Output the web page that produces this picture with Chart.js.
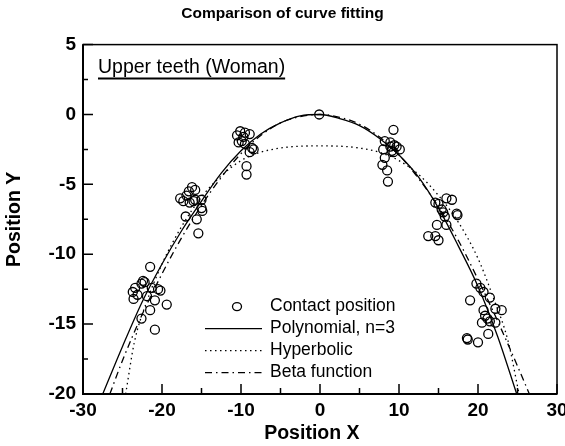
<!DOCTYPE html>
<html>
<head>
<meta charset="utf-8">
<script src="https://cdn.jsdelivr.net/npm/chart.js@4/dist/chart.umd.min.js"></script>
<style>
  html, body { margin: 0; padding: 0; background: #fff; overflow: hidden; }
  #wrap { width: 565px; height: 446px; }
</style>
</head>
<body>
<div id="wrap"><canvas id="chart"></canvas></div>
<script>
// ── Data ─────────────────────────────────────────────────────────────────────
const contactX = [
  -21.5, -22.4, -22.2, -22.6, -23.4, -23.7, -23.1, -23.6, -21.9, -21.3, -20.5, -20.2, -20.9, -19.4, -21.5, -22.6, -20.9,
  -16.2, -16.6, -15.8, -16.9, -17.7, -17.3, -16.5, -15.8, -15.0, -15.0, -14.9, -17.0, -15.6, -15.4, -16.0,
  -10.1, -9.5, -8.9, -10.5, -9.7, -10.3, -9.5, -8.6, -8.4, -8.9, -9.3, -9.3, -9.9,
  -0.1,
  9.3, 8.2, 8.9, 9.4, 9.7, 10.1, 8.0, 9.1, 9.3, 8.9, 8.2, 7.9, 8.5, 8.6,
  14.6, 15.0, 16.0, 16.7, 15.4, 15.8, 17.3, 17.4, 16.0, 14.8, 13.7, 14.6, 15.0, 15.6,
  19.8, 20.3, 20.7, 21.5, 19.0, 22.2, 23.0, 20.7, 20.9, 21.2, 20.5, 21.5, 22.2, 21.3, 18.6, 18.7, 20.0
];
const contactY = [
  -10.9, -11.9, -12.0, -12.1, -12.4, -12.7, -12.9, -13.2, -13.0, -12.4, -12.5, -12.6, -13.3, -13.6, -14.0, -14.6, -15.4,
  -5.2, -5.5, -5.4, -5.8, -6.0, -6.2, -6.3, -6.1, -6.1, -6.7, -6.9, -7.3, -7.5, -8.5, -6.2,
  -1.2, -1.3, -1.4, -1.5, -1.6, -2.0, -2.1, -2.4, -2.5, -2.7, -3.7, -4.3, -1.9,
  0.0,
  -1.1, -1.9, -2.0, -2.2, -2.3, -2.5, -2.5, -2.6, -2.7, -2.3, -3.1, -3.6, -4.0, -4.8,
  -6.3, -6.4, -6.0, -6.1, -6.8, -7.3, -7.1, -7.2, -7.9, -7.9, -8.7, -8.7, -9.0, -7.0,
  -12.1, -12.4, -12.7, -13.1, -13.3, -13.9, -14.0, -14.0, -14.4, -14.6, -14.9, -14.8, -14.9, -15.7, -16.0, -16.1, -16.3
];

// Polynomial, n=3 (solid)
const polyX = [-27.5, -25, -22.5, -20, -17.5, -15, -12.5, -10, -7.5, -5, -2.5, 0, 2.5, 5, 7.5, 10, 12.5, 15, 17.5, 20, 22.5, 24.9];
const polyY = [-20, -16.6, -13.4, -10.7, -8.3, -6.2, -4.2, -2.6, -1.4, -0.6, -0.1, 0, -0.3, -0.8, -1.7, -2.9, -4.5, -6.7, -9.4, -12.3, -15.9, -20];

// Hyperbolic (dotted)
const hypX = [-24.6, -23.5, -22, -20, -17.5, -15, -12.5, -10, -7.5, -5, -2.5, 0, 2.5, 5, 7.5, 10, 12.5, 15, 17.5, 20, 22, 23.8, 25.2];
const hypY = [-20, -16.3, -13.5, -10.7, -8.0, -5.9, -4.4, -3.3, -2.7, -2.4, -2.27, -2.25, -2.27, -2.4, -2.7, -3.3, -4.3, -5.8, -7.7, -10.3, -13.2, -16.2, -20];

// Beta function (dash-dot)
const betaX = [-26.6, -25, -22.5, -20, -17.5, -15, -12.5, -10, -7.5, -5, -2.5, 0, 2.5, 5, 7.5, 10, 12.5, 15, 17.5, 20, 22.5, 25, 26.5];
const betaY = [-20, -17.6, -14.3, -11.4, -8.8, -6.5, -4.5, -2.8, -1.5, -0.6, -0.15, 0, -0.2, -0.7, -1.6, -2.9, -4.6, -6.6, -9.0, -11.8, -14.8, -18.0, -20];

const xTicks = [-30, -20, -10, 0, 10, 20, 30];
const yTicks = [5, 0, -5, -10, -15, -20];

const seriesNames = ["Contact position", "Polynomial, n=3", "Hyperbolic", "Beta function"];

const FONT = "'Liberation Sans', Arial, sans-serif";
const toPoints = (xs, ys) => xs.map((x, i) => ({ x, y: ys[i] }));

// ── Plugin: frame, inward ticks, legend and subtitle ─────────────────────────
const decorPlugin = {
  id: "decor",
  afterDraw(chart) {
    const { ctx, chartArea: a, scales: { x, y } } = chart;
    ctx.save();
    ctx.strokeStyle = "#000";

    // frame
    ctx.lineWidth = 1.5;
    ctx.strokeRect(a.left, a.top, a.right - a.left, a.bottom - a.top);
    ctx.lineWidth = 2;
    ctx.beginPath();
    ctx.moveTo(a.left, a.top); ctx.lineTo(a.left, a.bottom); ctx.lineTo(a.right, a.bottom);
    ctx.stroke();

    // inward ticks (major + minor)
    ctx.lineWidth = 1.5;
    ctx.beginPath();
    for (let v = -30; v <= 30; v += 5) {
      const px = x.getPixelForValue(v);
      const len = v % 10 === 0 ? 10 : 6;
      ctx.moveTo(px, a.bottom); ctx.lineTo(px, a.bottom - len);
    }
    for (let v = -20; v <= 5; v += 2.5) {
      const py = y.getPixelForValue(v);
      const len = v % 5 === 0 ? 10 : 5;
      ctx.moveTo(a.left, py); ctx.lineTo(a.left + len, py);
    }
    ctx.stroke();

    // subtitle, underlined
    ctx.fillStyle = "#000";
    ctx.font = `19.5px ${FONT}`;
    ctx.textBaseline = "middle";
    ctx.textAlign = "left";
    const sub = "Upper teeth (Woman)";
    const sx = a.left + 15, sy = a.top + 23;
    ctx.fillText(sub, sx, sy);
    const sw = ctx.measureText(sub).width;
    ctx.lineWidth = 2;
    ctx.beginPath();
    ctx.moveTo(sx, sy + 11); ctx.lineTo(sx + sw, sy + 11);
    ctx.stroke();

    // legend
    ctx.font = `17.5px ${FONT}`;
    const lx = a.left + 122, tx = a.left + 187;
    const rows = [a.top + 262, a.top + 284, a.top + 306, a.top + 328];
    chart.data.datasets.forEach((ds, i) => {
      const ry = rows[i];
      ctx.strokeStyle = "#000";
      if (i === 0) {
        ctx.lineWidth = 1.3;
        ctx.beginPath();
        ctx.ellipse(lx + 32, ry, 4.5, 4, 0, 0, Math.PI * 2);
        ctx.stroke();
      } else {
        ctx.lineWidth = ds.borderWidth;
        ctx.setLineDash(ds.borderDash || []);
        ctx.beginPath();
        ctx.moveTo(lx, ry); ctx.lineTo(lx + 57, ry);
        ctx.stroke();
        ctx.setLineDash([]);
      }
      ctx.fillText(ds.label, tx, ry);
    });
    ctx.restore();
  }
};

new Chart(document.getElementById("chart"), {
  type: "scatter",
  data: {
    datasets: [
      {
        label: seriesNames[0],
        data: toPoints(contactX, contactY),
        pointStyle: "circle",
        pointRadius: 4.5,
        pointBorderWidth: 1.3,
        pointBorderColor: "#000",
        pointBackgroundColor: "rgba(0,0,0,0)",
        showLine: false
      },
      {
        label: seriesNames[1],
        data: toPoints(polyX, polyY),
        showLine: true, pointRadius: 0,
        borderColor: "#000", borderWidth: 1.3,
        cubicInterpolationMode: "monotone"
      },
      {
        label: seriesNames[2],
        data: toPoints(hypX, hypY),
        showLine: true, pointRadius: 0,
        borderColor: "#000", borderWidth: 1.3, borderDash: [1.5, 3.5],
        cubicInterpolationMode: "monotone"
      },
      {
        label: seriesNames[3],
        data: toPoints(betaX, betaY),
        showLine: true, pointRadius: 0,
        borderColor: "#000", borderWidth: 1.3, borderDash: [7, 4, 1.5, 4],
        cubicInterpolationMode: "monotone"
      }
    ]
  },
  options: {
    responsive: true,
    maintainAspectRatio: false,
    animation: false,
    layout: { padding: 0 },
    plugins: {
      legend: { display: false },
      tooltip: { enabled: false },
      title: {
        display: true,
        text: "Comparison of curve fitting",
        color: "#000",
        font: { family: FONT, size: 15.5, weight: "bold" },
        padding: { top: 4, bottom: 22 }
      }
    },
    scales: {
      x: {
        type: "linear", min: -30, max: 30,
        afterBuildTicks: s => { s.ticks = xTicks.map(v => ({ value: v })); },
        grid: { display: false, drawTicks: false },
        border: { display: false },
        ticks: { color: "#000", padding: 5, maxRotation: 0, font: { family: FONT, size: 19, weight: "bold" } },
        title: { display: true, text: "Position X   ", color: "#000", padding: { top: 0, bottom: 1 },
                 font: { family: FONT, size: 19.5, weight: "bold" } },
        afterFit: s => { s.height = 52; s.paddingLeft = 0; s.paddingRight = 8; }
      },
      y: {
        type: "linear", min: -20, max: 5,
        afterBuildTicks: s => { s.ticks = yTicks.map(v => ({ value: v })); },
        grid: { display: false, drawTicks: false },
        border: { display: false },
        ticks: { color: "#000", padding: 7, font: { family: FONT, size: 19, weight: "bold" } },
        title: { display: true, text: "Position Y", color: "#000", padding: { top: 3, bottom: 0 },
                 font: { family: FONT, size: 19.5, weight: "bold" } },
        afterFit: s => { s.width = 83; }
      }
    }
  },
  plugins: [decorPlugin]
});
</script>
</body>
</html>
